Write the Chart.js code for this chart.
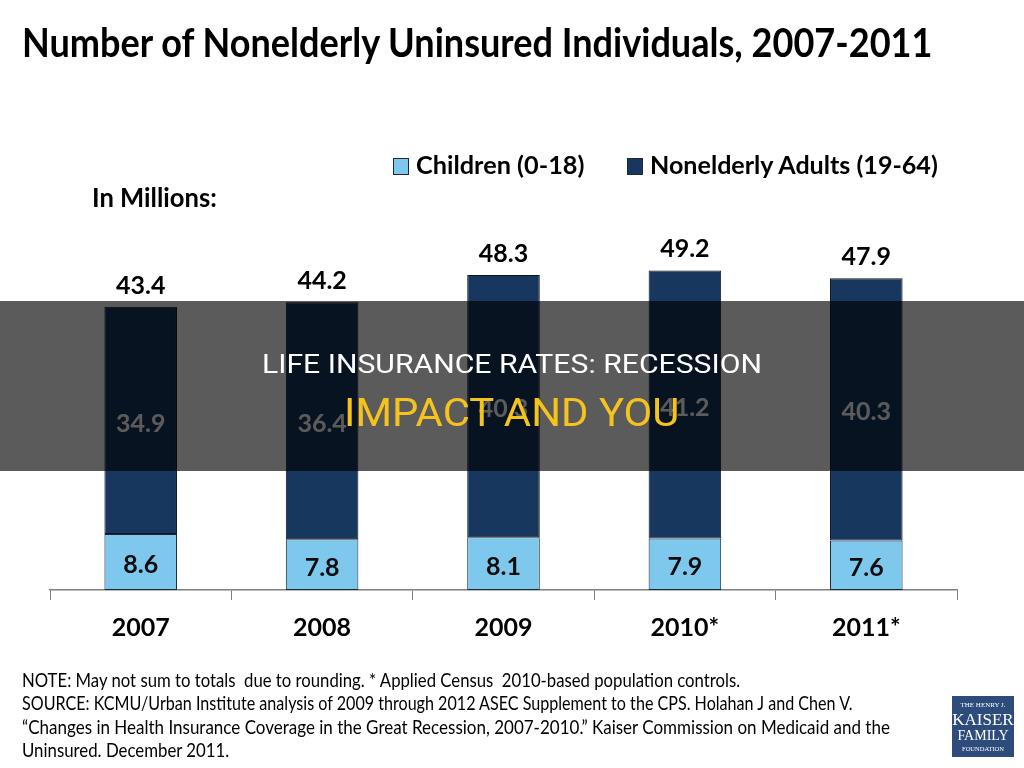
<!DOCTYPE html>
<html>
<head>
<meta charset="utf-8">
<script src="https://cdn.jsdelivr.net/npm/chart.js@4.4.1/dist/chart.umd.min.js"></script>
<style>
  html, body { margin: 0; padding: 0; background: #ffffff; }
  body { width: 1024px; height: 768px; position: relative; overflow: hidden; font-family: Lato, "Open Sans", sans-serif; }
  #chart { position: absolute; left: 0; top: 0; }
  .t { position: absolute; white-space: nowrap; line-height: 1; transform-origin: 0 0; }
  .b { font-weight: bold; color: #000; }
  #band { position: absolute; left: 0; top: 301px; width: 1024px; height: 170px; background: rgba(0,0,0,0.645); }
  .sq { position: absolute; width: 14px; height: 15px; border: 1px solid #1b2a3a; }
  #logo { position: absolute; left: 952px; top: 696px; width: 62px; height: 61px; background: #2d4b7b;
          color: #fff; font-family: "Liberation Serif", "DejaVu Serif", serif; text-align: center; }
  #logo div { position: absolute; left: 0; width: 62px; line-height: 1; }
</style>
</head>
<body>
<canvas id="chart" width="1024" height="768"></canvas>

<div class="t b" id="title">Number of Nonelderly Uninsured Individuals, 2007-2011</div>
<div class="sq" style="left:393px; top:158px; background:#7ec8ee;"></div>
<div class="t b" id="leg1">Children (0-18)</div>
<div class="sq" style="left:627px; top:158px; background:#17375e;"></div>
<div class="t b" id="leg2">Nonelderly Adults (19-64)</div>
<div class="t b" id="units">In Millions:</div>

<div class="t" id="n1">NOTE: May not sum to totals&nbsp; due to rounding. * Applied Census&nbsp; 2010-based population controls.</div>
<div class="t" id="n2">SOURCE: KCMU/Urban Institute analysis of 2009 through 2012 ASEC Supplement to the CPS. Holahan J and Chen V.</div>
<div class="t" id="n3">“Changes in Health Insurance Coverage in the Great Recession, 2007-2010.” Kaiser Commission on Medicaid and the</div>
<div class="t" id="n4">Uninsured. December 2011.</div>

<div id="logo">
  <div style="top:6px; font-size:7px;">THE HENRY J.</div>
  <div style="top:15px; font-size:17px;">KAISER</div>
  <div style="top:33px; font-size:14px;">FAMILY</div>
  <div style="top:50px; font-size:6.5px;">FOUNDATION</div>
</div>

<div id="band"></div>
<div class="t" id="ov1" style="color:#ffffff; font-family: Roboto, sans-serif;">LIFE INSURANCE RATES: RECESSION</div>
<div class="t" id="ov2" style="color:#f5c31c; font-family: Roboto, sans-serif;">IMPACT AND YOU</div>

<script>
// ---- data ----
const years = ['2007', '2008', '2009', '2010*', '2011*'];
const children = [8.6, 7.8, 8.1, 7.9, 7.6];
const adults = [34.9, 36.4, 40.3, 41.2, 40.3];
const totals = [43.4, 44.2, 48.3, 49.2, 47.9];
const seriesNames = ['Children (0-18)', 'Nonelderly Adults (19-64)'];

// ---- text placement helper: left, baseline, font size, target width ----
function place(id, left, baseline, size, width, center) {
  const el = document.getElementById(id);
  el.style.fontSize = size + 'px';
  const probe = document.createElement('span');
  probe.style.display = 'inline-block';
  probe.style.width = '0px';
  probe.style.height = '0px';
  el.appendChild(probe);
  el.style.left = '0px';
  el.style.top = '0px';
  const r0 = el.getBoundingClientRect();
  const base = probe.getBoundingClientRect().top - r0.top;
  const w = el.scrollWidth;
  el.removeChild(probe);
  const sx = width / w;
  el.style.transform = 'scaleX(' + sx + ')';
  el.style.left = (center ? left - width / 2 : left) + 'px';
  el.style.top = (baseline - base) + 'px';
}

const labelPlugin = {
  id: 'valueLabels',
  afterDatasetsDraw(chart) {
    const ctx = chart.ctx;
    const mc = chart.getDatasetMeta(0);
    const ma = chart.getDatasetMeta(1);
    ctx.save();
    ctx.textAlign = 'center';
    ctx.textBaseline = 'middle';
    ctx.font = 'bold 25px Lato, "Open Sans", sans-serif';
    for (let i = 0; i < years.length; i++) {
      const c = mc.data[i], a = ma.data[i];
      ctx.fillStyle = '#0d0d0d';
      ctx.fillText(children[i].toFixed(1), c.x, (c.y + c.base) / 2 + 3);
      ctx.fillStyle = '#ffffff';
      ctx.fillText(adults[i].toFixed(1), a.x, (a.y + a.base) / 2 + 3);
      ctx.fillStyle = '#000000';
      ctx.fillText(totals[i].toFixed(1), a.x, a.y - 21);
    }
    ctx.restore();
  }
};

new Chart(document.getElementById('chart'), {
  type: 'bar',
  data: {
    labels: years,
    datasets: [
      { label: seriesNames[0], data: children, backgroundColor: '#7ec8ee', borderColor: '#15283d', borderWidth: 1, borderSkipped: false },
      { label: seriesNames[1], data: adults, backgroundColor: '#17375e', borderColor: '#0b1420', borderWidth: 1, borderSkipped: false }
    ]
  },
  options: {
    responsive: false,
    devicePixelRatio: 1,
    animation: false,
    layout: { padding: { left: 50, right: 67, top: 232, bottom: 112 } },
    datasets: { bar: { categoryPercentage: 0.8, barPercentage: 0.5 } },
    plugins: { legend: { display: false }, title: { display: false }, tooltip: { enabled: false } },
    scales: {
      x: {
        stacked: true,
        grid: { offset: true, drawOnChartArea: false, drawTicks: true, tickLength: 10, color: '#7f7f7f' },
        border: { display: true, color: '#7f7f7f', width: 1.5 },
        ticks: { color: '#000000', padding: 13, font: { family: 'Lato, "Open Sans", sans-serif', size: 25, weight: 'bold' } }
      },
      y: { stacked: true, display: false, min: 0, max: 55 }
    }
  },
  plugins: [labelPlugin]
});

place('title', 22, 57, 40, 910);
place('leg1', 416, 174, 25, 168);
place('leg2', 650, 174, 25, 288);
place('units', 92, 207, 26, 125);
place('n1', 22, 687, 19, 718);
place('n2', 22, 710, 19, 831);
place('n3', 22, 734, 19, 868);
place('n4', 22, 757, 19, 207);
place('ov1', 512, 373, 26, 500, true);
place('ov2', 511, 426, 39, 335, true);
</script>
</body>
</html>
